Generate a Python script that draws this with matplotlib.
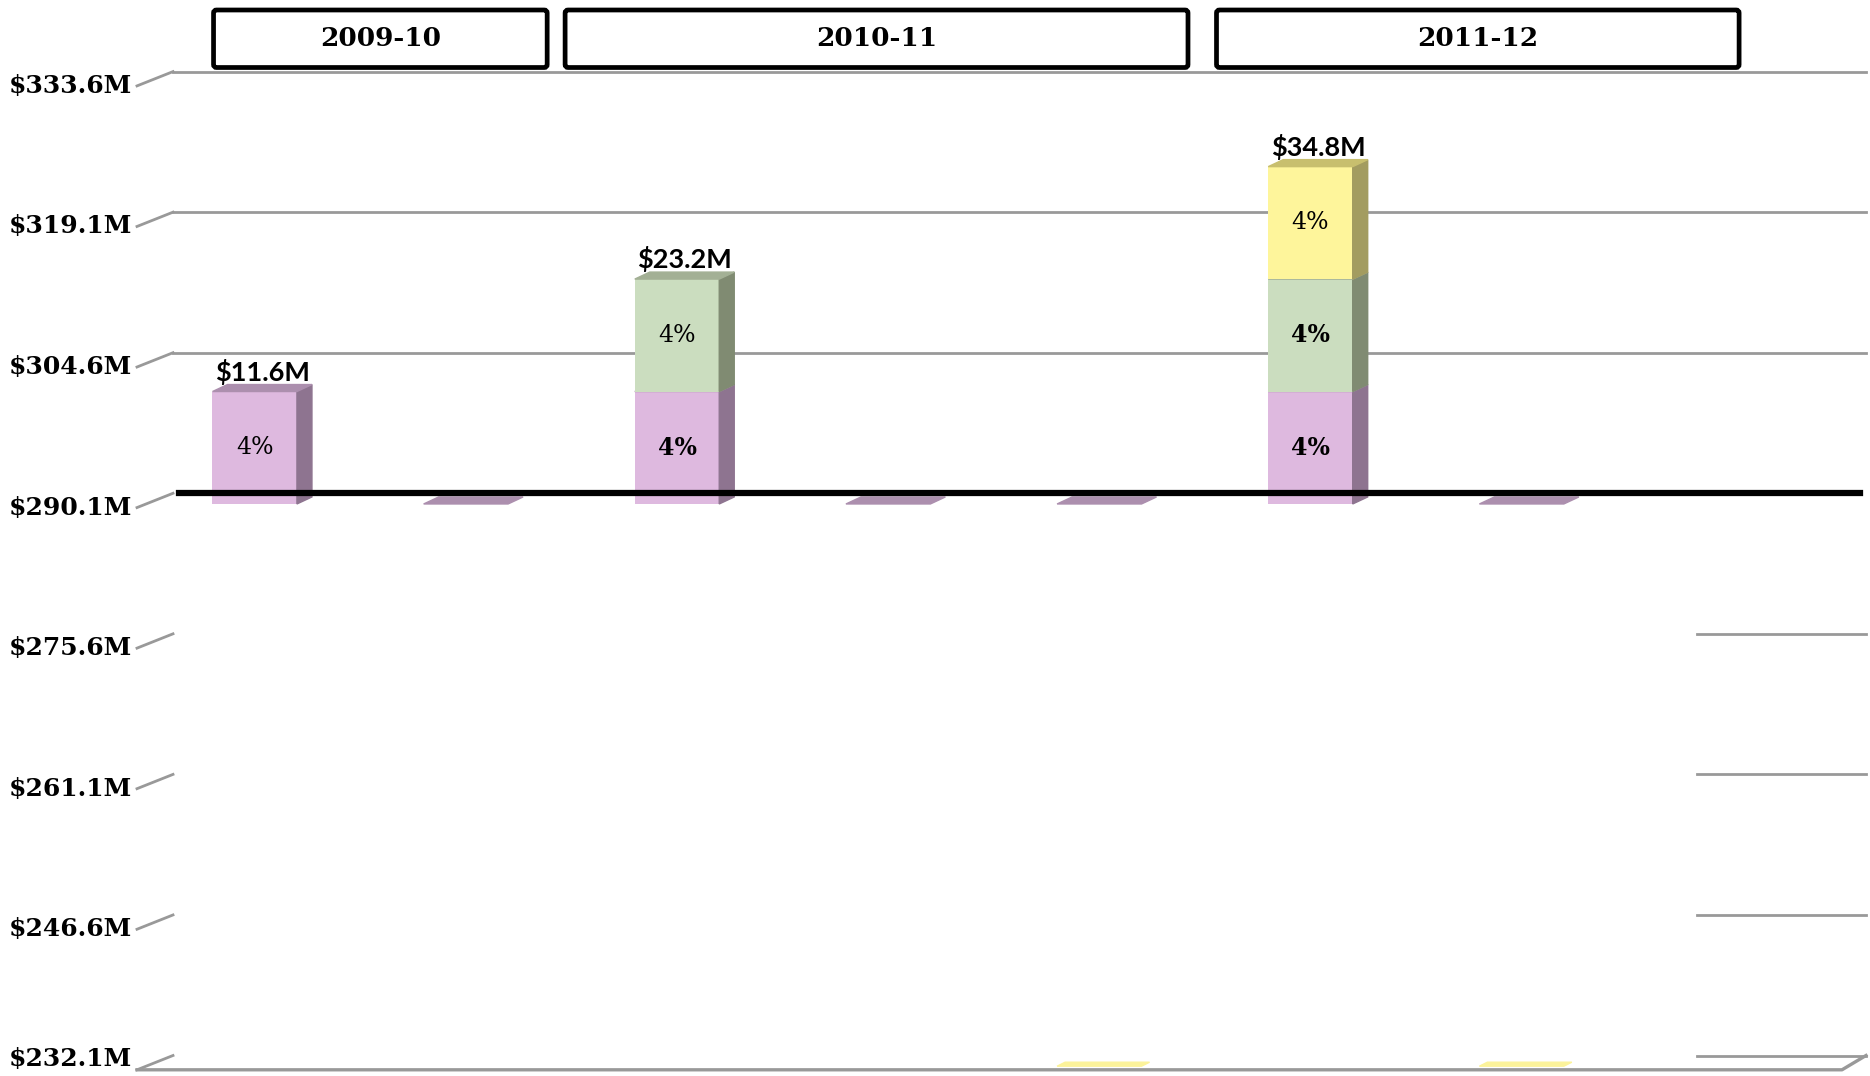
import matplotlib
matplotlib.use('Agg')
import matplotlib.pyplot as plt
import matplotlib.transforms as mtransforms
from matplotlib.patches import Polygon, FancyBboxPatch
from matplotlib.lines import Line2D

# data
groups = ['2009-10', '2010-11', '2011-12']
n_slots = 7
purple = [11.6, 0, 11.6, 0, 0, 11.6, 0]
green = [0, 0, 11.6, 0, 0, 11.6, 0]
yellow = [0, 0, 0, 0, 0, 11.6, 0]
seg_label = '4%'
purple_bold = [False, False, True, False, False, True, False]
green_bold = [False, False, False, False, False, True, False]
yellow_bold = [False] * 7
yellow_floor = [4, 6]
yticks = [232.1, 246.6, 261.1, 275.6, 290.1, 304.6, 319.1, 333.6]
base = 290.1

# layout (pixels)
W, H = 1870, 1076
GX, GY = 36, 14.3      # wall depth (slanted ticks)
FY = 10.7              # bar front face offset below wall
BX, BY = 15, 7         # bar depth
group_edges = [(-0.195, 1.385), (1.47, 4.42), (4.555, 7.03)]

fig = plt.figure(figsize=(W / 100, H / 100), dpi=100)
ax = fig.add_axes([173 / W, 1 - 1055.5 / H, (1866 - 173) / W, (1055.5 - 71.6) / H])
ax.set_xlim(-0.387, 7.631)
ax.set_ylim(yticks[0], yticks[-1])
ax.axis('off')
ident = mtransforms.IdentityTransform()
grid_c = '#999999'

# gridlines on the back wall
for v in yticks:
    if v > base:
        ax.axhline(v, 0, 1, color=grid_c, lw=2.0, zorder=1, clip_on=False)
    elif v < base:
        ax.axhline(v, 0.9, 1, color=grid_c, lw=2.0, zorder=1, clip_on=False)
    bx, by = ax.transData.transform((ax.get_xlim()[0], v))
    fx, fy = bx - GX, by - GY
    fig.add_artist(Line2D([fx, bx], [fy, by], color=grid_c, lw=2.0, transform=ident))
    fig.text(fx - 5, max(fy, 17), f'${v:.1f}M', ha='right', va='center',
             family='DejaVu Serif', weight='bold', fontsize=18, transform=ident)

# floor edge
bx0, by0 = ax.transData.transform((ax.get_xlim()[0], yticks[0]))
bx1, _ = ax.transData.transform((ax.get_xlim()[1], yticks[0]))
fig.add_artist(Line2D([bx0 - GX, bx1 - 24, bx1], [by0 - GY, by0 - GY, by0],
                      color=grid_c, lw=2.4, transform=ident))

# zero line
ax.axhline(base, 0.0035, 0.9965, color='black', lw=4.5, zorder=20)

front = ax.transData + mtransforms.ScaledTranslation(0, -FY / 100, fig.dpi_scale_trans)
x = list(range(n_slots))
width = 0.4

series = [
    (purple, purple_bold, '#DEB9DF', '#8E7490', '#AC8FAE'),
    (green, green_bold, '#CBDDBF', '#808B72', '#A3B095'),
    (yellow, yellow_bold, '#FEF59B', '#A39C60', '#C8BF6E'),
]

bottom = [base] * n_slots
for k, (vals, bold, fc, sc, tc) in enumerate(series):
    z = 3 + k
    ax.bar(x, vals, width=width, bottom=bottom, color=fc, transform=front,
           zorder=z, clip_on=False)
    for i, v in enumerate(vals):
        (x0, y0), (x1, y1) = front.transform([[i - width / 2, bottom[i]],
                                              [i + width / 2, bottom[i] + v]])
        if v > 0:
            ax.add_patch(Polygon([(x1, y0), (x1 + BX, y0 + BY), (x1 + BX, y1 + BY), (x1, y1)],
                                 closed=True, color=sc, transform=ident, zorder=z, clip_on=False))
            ax.text(i, bottom[i] + v / 2, seg_label, transform=front, ha='center', va='center',
                    family='DejaVu Serif', fontsize=17, weight='bold' if bold[i] else 'normal',
                    zorder=z + 0.5)
        if v > 0 or k == 0:
            ax.add_patch(Polygon([(x0, y1), (x1, y1), (x1 + BX, y1 + BY), (x0 + BX, y1 + BY)],
                                 closed=True, color=tc, transform=ident, zorder=z, clip_on=False))
    bottom = [b + v for b, v in zip(bottom, vals)]

# yellow slivers on the floor
for i in yellow_floor:
    (x0, y0), (x1, _) = front.transform([[i - width / 2, yticks[0]], [i + width / 2, yticks[0]]])
    ax.add_patch(Polygon([(x0, y0), (x1, y0), (x1 + 8, y0 + 4), (x0 + 8, y0 + 4)],
                         closed=True, color='#FCF39A', transform=ident, zorder=3, clip_on=False))

# totals
for i in x:
    t = bottom[i] - base
    if t > 0:
        lab_trans = front + mtransforms.ScaledTranslation(BX / 200, 20 / 100, fig.dpi_scale_trans)
        ax.text(i, bottom[i], f'${t:.1f}M', transform=lab_trans, ha='center', va='center',
                family='Lato', weight='bold', fontsize=19.5, zorder=10)

# group headers
for g, (gl, gr) in zip(groups, group_edges):
    l = ax.transData.transform((gl, 0))[0]
    r = ax.transData.transform((gr, 0))[0]
    top, bot = H - 10, H - 67.5
    fig.add_artist(FancyBboxPatch((l, bot), r - l, top - bot,
                                  boxstyle='round,pad=0,rounding_size=3',
                                  fc='white', ec='black', lw=3.4, transform=ident))
    fig.text((l + r) / 2, (top + bot) / 2, g, ha='center', va='center',
             family='DejaVu Serif', weight='bold', fontsize=19, transform=ident)

fig.savefig('out.png', dpi=100)
